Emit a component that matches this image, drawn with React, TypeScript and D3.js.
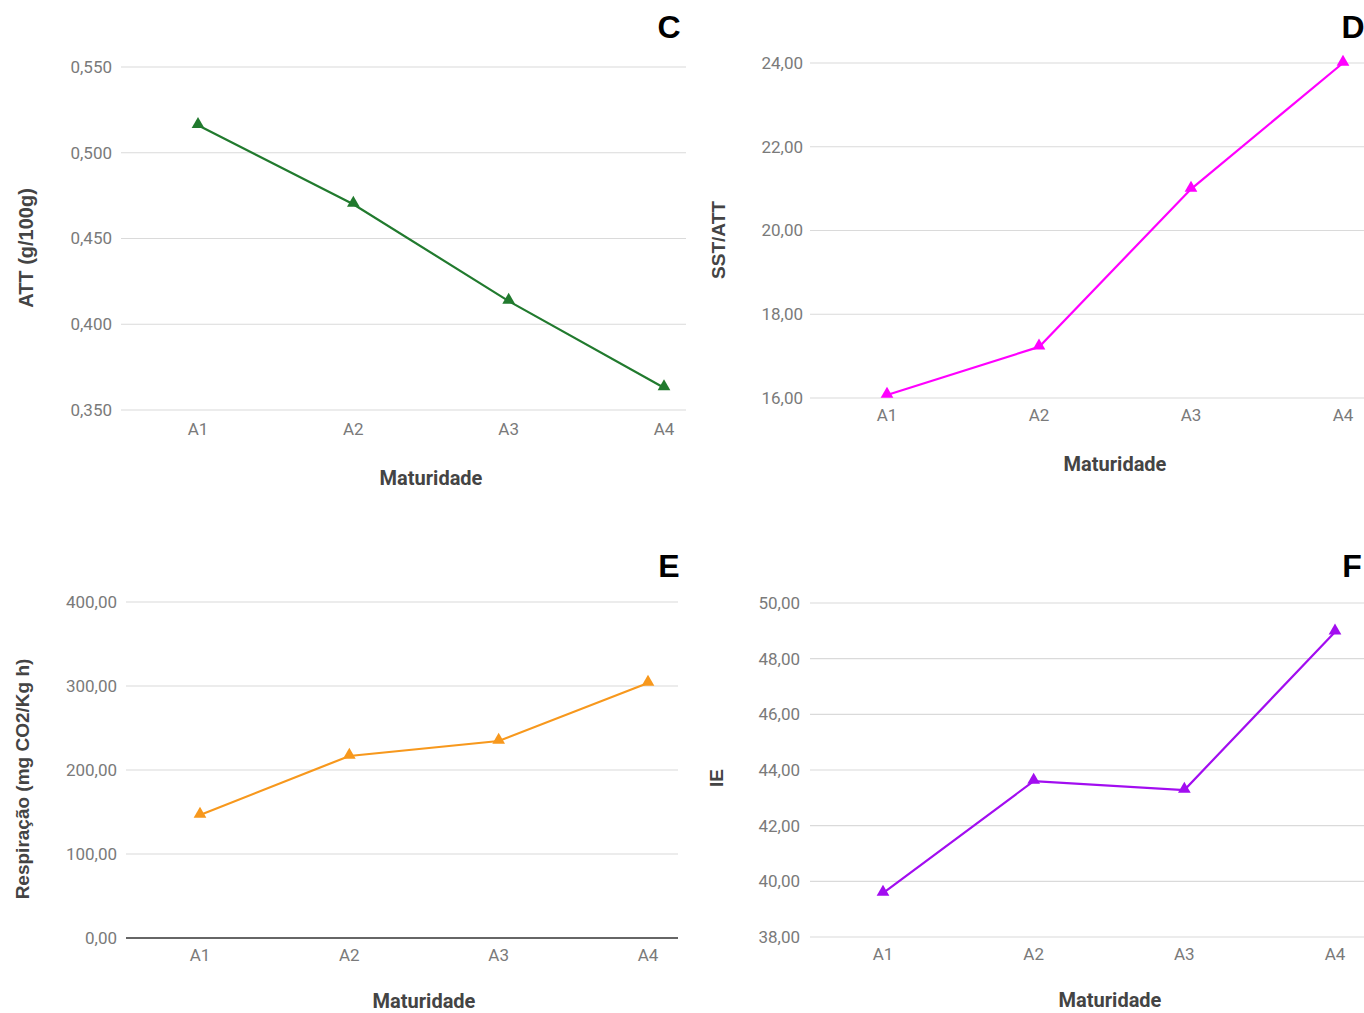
import React from "react";
import * as d3 from "d3";

const categories = ["A1", "A2", "A3", "A4"];
const attValues = [0.516, 0.47, 0.4135, 0.363];
const sstAttValues = [16.07, 17.22, 20.99, 24.0];
const respValues = [146.4, 216.7, 234.5, 303.6];
const ieValues = [39.58, 43.6, 43.28, 48.96];
const attTicks = [0.35, 0.4, 0.45, 0.5, 0.55];
const sstAttTicks = [16, 18, 20, 22, 24];
const respTicks = [0, 100, 200, 300, 400];
const ieTicks = [38, 40, 42, 44, 46, 48, 50];

const locale = d3.formatLocale({ decimal: ",", thousands: ".", grouping: [3], currency: ["R$", ""] });

type PanelProps = {
  letter: string;
  letterX: number;
  letterY: number;
  values: number[];
  ticks: number[];
  fmt: string;
  color: string;
  gridX0: number;
  gridX1: number;
  yTop: number;
  yBottom: number;
  catX0: number;
  catX1: number;
  tickLabelX: number;
  xLabelY: number;
  xTitleX: number;
  xTitleY: number;
  yTitle: string;
  yTitleX: number;
  yTitleY: number;
  yTitleSize?: number;
  darkBaseline?: boolean;
};

function Panel(p: PanelProps) {
  const y = d3.scaleLinear().domain([p.ticks[0], p.ticks[p.ticks.length - 1]]).range([p.yBottom, p.yTop]);
  const x = d3.scalePoint<string>().domain(categories).range([p.catX0, p.catX1]);
  const f = locale.format(p.fmt);
  const line = d3
    .line<number>()
    .x((_, i) => x(categories[i]) as number)
    .y((v) => y(v));
  const tri = d3.symbol().type(d3.symbolTriangle).size(70)();
  return (
    <g>
      {p.ticks.map((t, i) => (
        <g key={"t" + i}>
          <line
            x1={p.gridX0}
            x2={p.gridX1}
            y1={y(t)}
            y2={y(t)}
            stroke={p.darkBaseline && i === 0 ? "#333" : "#dadada"}
            strokeWidth={p.darkBaseline && i === 0 ? 1.6 : 1.2}
          />
          <text
            x={p.tickLabelX}
            y={y(t)}
            dy="0.35em"
            textAnchor="end"
            fontFamily="Roboto"
            fontSize={17}
            fill="#7a7a7a"
          >
            {f(t)}
          </text>
        </g>
      ))}
      {categories.map((c) => (
        <text
          key={c}
          x={x(c)}
          y={p.xLabelY}
          dy="0.35em"
          textAnchor="middle"
          fontFamily="Roboto"
          fontSize={17}
          fill="#7a7a7a"
        >
          {c}
        </text>
      ))}
      <path d={line(p.values) || ""} fill="none" stroke={p.color} strokeWidth={2.2} />
      {p.values.map((v, i) => (
        <path key={"m" + i} d={tri || ""} transform={`translate(${x(categories[i])},${y(v) - 1})`} fill={p.color} />
      ))}
      <text
        x={p.xTitleX}
        y={p.xTitleY}
        dy="0.35em"
        textAnchor="middle"
        fontFamily="Roboto"
        fontWeight="bold"
        fontSize={20}
        fill="#444"
      >
        Maturidade
      </text>
      <text
        transform={`translate(${p.yTitleX},${p.yTitleY}) rotate(-90)`}
        dy="0.35em"
        textAnchor="middle"
        fontFamily="Liberation Sans"
        fontWeight="bold"
        fontSize={p.yTitleSize || 19}
        fill="#444"
      >
        {p.yTitle}
      </text>
      <text
        x={p.letterX}
        y={p.letterY}
        dy="0.35em"
        textAnchor="middle"
        fontFamily="Liberation Sans"
        fontWeight="bold"
        fontSize={32}
        fill="#000"
      >
        {p.letter}
      </text>
    </g>
  );
}

export default function App() {
  return (
    <svg
      width={1364}
      height={1013}
      style={{ position: "absolute", left: 0, top: 0, background: "#fff" }}
    >
      <rect width={1364} height={1013} fill="#fff" />
      <Panel
        letter="C"
        letterX={669}
        letterY={27}
        values={attValues}
        ticks={attTicks}
        fmt=".3f"
        color="#217a2e"
        gridX0={121}
        gridX1={686}
        yTop={67}
        yBottom={410}
        catX0={198}
        catX1={664}
        tickLabelX={112}
        xLabelY={429}
        xTitleX={431}
        xTitleY={478}
        yTitle="ATT (g/100g)"
        yTitleX={26}
        yTitleY={248}
        yTitleSize={20}
      />
      <Panel
        letter="D"
        letterX={1353}
        letterY={27}
        values={sstAttValues}
        ticks={sstAttTicks}
        fmt=".2f"
        color="#ff00ff"
        gridX0={810}
        gridX1={1364}
        yTop={63}
        yBottom={398}
        catX0={887}
        catX1={1343}
        tickLabelX={803}
        xLabelY={415}
        xTitleX={1115}
        xTitleY={464}
        yTitle="SST/ATT"
        yTitleX={718}
        yTitleY={240}
      />
      <Panel
        letter="E"
        letterX={669}
        letterY={566}
        values={respValues}
        ticks={respTicks}
        fmt=".2f"
        color="#f7981d"
        gridX0={126}
        gridX1={678}
        yTop={602}
        yBottom={938}
        catX0={200}
        catX1={648}
        tickLabelX={117}
        xLabelY={955}
        xTitleX={424}
        xTitleY={1001}
        yTitle="Respiração (mg CO2/Kg h)"
        yTitleX={22}
        yTitleY={779}
        darkBaseline
      />
      <Panel
        letter="F"
        letterX={1352}
        letterY={566}
        values={ieValues}
        ticks={ieTicks}
        fmt=".2f"
        color="#a20df0"
        gridX0={810}
        gridX1={1364}
        yTop={603}
        yBottom={937}
        catX0={883}
        catX1={1335}
        tickLabelX={800}
        xLabelY={954}
        xTitleX={1110}
        xTitleY={1000}
        yTitle="IE"
        yTitleX={716}
        yTitleY={778}
      />
    </svg>
  );
}
